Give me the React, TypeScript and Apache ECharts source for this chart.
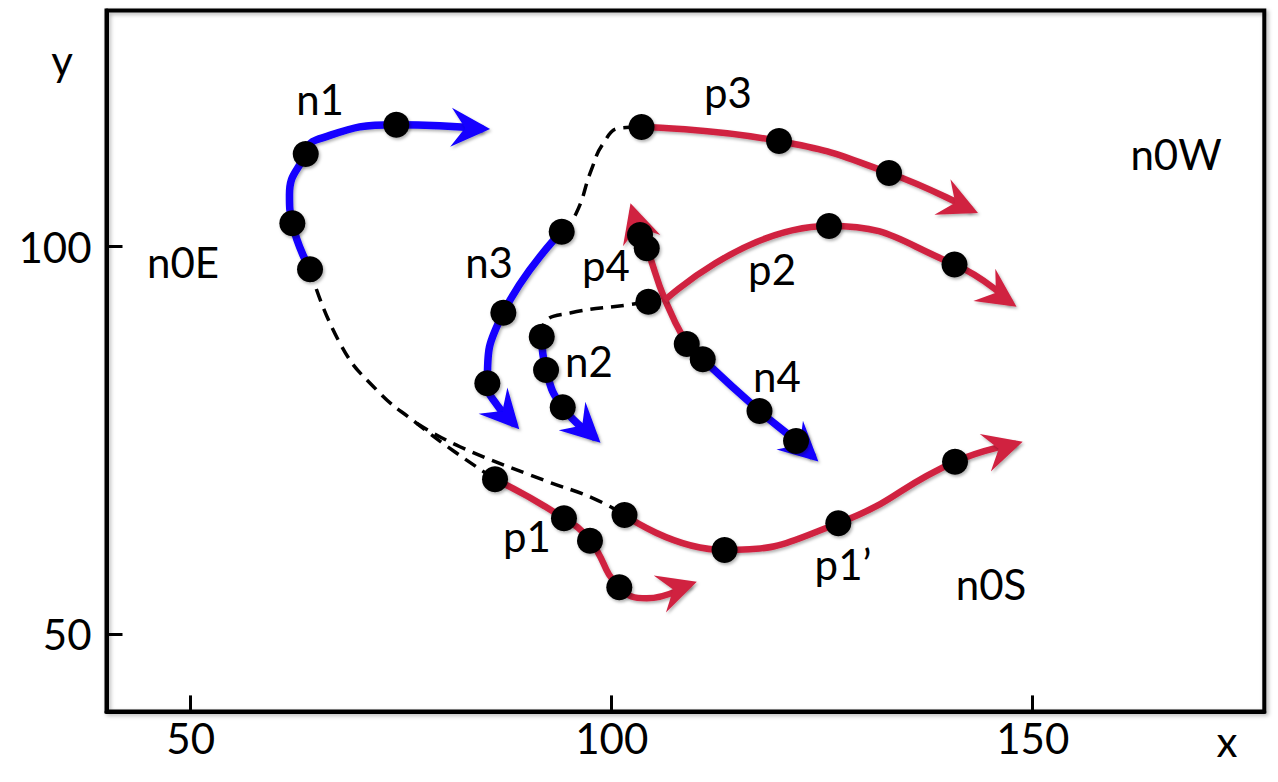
import React, { useEffect, useRef } from 'react';
import * as echarts from 'echarts';

const BLUE = '#1200ff';
const RED = '#d02241';

// Curves (x, y), each ending at its arrow tip
const n1Curve = [[64.17, 97.08], [62.07, 103.01], [61.73, 106.67], [63.66, 111.96], [64.88, 113.77], [74.42, 115.74], [84.72, 115.22]];
const n3Curve = [[94.06, 101.93], [87.13, 91.47], [85.23, 82.36], [86.38, 79.56], [88.46, 77.08]];
const n2Curve = [[91.69, 88.38], [92.2, 84.08], [94.18, 79.26], [98.06, 75.31]];
const n4Curve = [[110.81, 85.46], [117.55, 78.78], [121.89, 74.91], [123.93, 72.86]];
const p4Curve = [[108.91, 87.43], [106.33, 93.11], [104.16, 99.79], [103.36, 101.5], [102.47, 104.74]];
const p2Curve = [[106.33, 93.11], [125.81, 102.67], [140.71, 97.7], [147.39, 92.75]];
const p3Curve = [[103.54, 115.45], [119.87, 113.64], [132.93, 109.51], [142.74, 104.71]];
const p1Curve = [[86.14, 69.97], [94.33, 64.93], [97.42, 62.04], [100.9, 56.02], [104.16, 54.6], [109.32, 56.46]];
const p1pCurve = [[101.52, 65.36], [113.4, 60.84], [126.91, 64.29], [140.77, 72.24], [148.01, 74.57]];

// Dashed connectors
const dash1 = [[64.17, 97.08], [67.73, 87.52], [72.09, 81.49], [76.84, 77.2], [81.39, 73.49], [86.14, 69.97]];
const dash2 = [[76.84, 77.2], [81.98, 74.17], [91.88, 69.88], [97.81, 67.51], [101.52, 65.36]];
const dash3 = [[94.06, 101.93], [95.74, 104.22], [97.58, 109.9], [99.0, 113.34], [100.99, 115.32], [103.54, 115.45]];
const dash4 = [[91.69, 88.38], [92.08, 90.27], [95.05, 91.43], [101.78, 92.47], [104.35, 92.89]];

// Black dots
const dotsN1 = [[64.17, 97.08], [62.07, 103.01], [63.66, 111.96], [74.42, 115.74]];
const dotsN3 = [[94.06, 101.93], [87.13, 91.47], [85.23, 82.36]];
const dotsN2 = [[91.69, 88.38], [92.2, 84.08], [94.18, 79.26]];
const dotsN4 = [[110.81, 85.46], [117.55, 78.78], [121.89, 74.91]];
const dotsP4 = [[108.91, 87.43], [104.16, 99.79], [103.36, 101.5], [104.35, 92.89]];
const dotsP2 = [[125.81, 102.67], [140.71, 97.7]];
const dotsP3 = [[103.54, 115.45], [119.87, 113.64], [132.93, 109.51]];
const dotsP1 = [[86.14, 69.97], [94.33, 64.93], [97.42, 62.04], [100.9, 56.02]];
const dotsP1p = [[101.52, 65.36], [113.4, 60.84], [126.91, 64.29], [140.77, 72.24]];

// Text labels
const labelNames = ['n1', 'p3', 'n0W', 'n0E', 'n3', 'p4', 'p2', 'n2', 'n4', 'p1', 'p1\u2019', 'n0S'];
const labelX = [65.36, 113.81, 167.02, 49.09, 85.43, 99.32, 119.04, 97.3, 119.63, 89.94, 127.47, 145.05];
const labelY = [119.1, 119.95, 111.9, 97.96, 97.96, 97.57, 97.12, 85.22, 83.28, 62.59, 58.97, 56.39];

const xTicks = [50, 100, 150];
const yTicks = [50, 100];

const FONT = 'Lato';
const FS = 42;

export default function App() {
  const ref = useRef<HTMLDivElement>(null);
  useEffect(() => {
    if (!ref.current) return;
    const chart = echarts.init(ref.current, undefined, { renderer: 'svg' });

    const solid: [number[][], string, number][] = [
      [n1Curve, BLUE, 7.5], [n3Curve, BLUE, 7.5], [n2Curve, BLUE, 7.5], [n4Curve, BLUE, 7.5],
      [p4Curve, RED, 6.5], [p2Curve, RED, 6.5], [p3Curve, RED, 6.5], [p1Curve, RED, 6.5], [p1pCurve, RED, 6.5],
    ];
    const dashed = [dash1, dash2, dash3, dash4];
    const arrowColors = solid.map((s) => s[1]);
    const arrowData = solid.map(([c], i) => [
      c[c.length - 1][0], c[c.length - 1][1], c[c.length - 2][0], c[c.length - 2][1], i,
    ]);
    const allDots = [...dotsN1, ...dotsN3, ...dotsN2, ...dotsN4, ...dotsP4, ...dotsP2, ...dotsP3, ...dotsP1, ...dotsP1p];

    const shadow = { shadowColor: 'rgba(0,0,0,0.3)', shadowBlur: 3, shadowOffsetX: 1.5, shadowOffsetY: 2 };

    const series: any[] = [];
    dashed.forEach((d) => series.push({
      type: 'line', data: d, smooth: 0.5, symbol: 'none', silent: true, z: 1,
      lineStyle: { color: '#000', width: 3.5, type: [13, 8] },
    }));
    solid.forEach(([c, col, w]) => series.push({
      type: 'line', data: c, smooth: 0.5, symbol: 'none', silent: true, z: 2,
      lineStyle: { color: col, width: w, ...shadow },
    }));
    series.push({
      type: 'custom', coordinateSystem: 'cartesian2d', data: arrowData, z: 3, silent: true,
      encode: { x: [0, 2], y: [1, 3] },
      renderItem: (params: any, api: any) => {
        const tip = api.coord([api.value(0), api.value(1)]);
        const prev = api.coord([api.value(2), api.value(3)]);
        let dx = tip[0] - prev[0];
        let dy = tip[1] - prev[1];
        const len = Math.hypot(dx, dy) || 1;
        dx /= len; dy /= len;
        const nx = -dy; const ny = dx;
        const L = 39; const W = 19.5; const N = 25; const O = 7;
        const tx = tip[0] + dx * O; const ty = tip[1] + dy * O;
        const pts = [
          [tx, ty],
          [tx - dx * L + nx * W, ty - dy * L + ny * W],
          [tx - dx * N, ty - dy * N],
          [tx - dx * L - nx * W, ty - dy * L - ny * W],
        ];
        return { type: 'polygon', shape: { points: pts }, style: { fill: arrowColors[api.value(4)], ...shadow } };
      },
    });
    series.push({
      type: 'scatter', data: allDots, symbol: 'circle', symbolSize: 26, z: 4, silent: true,
      itemStyle: { color: '#000', opacity: 1, ...shadow },
    });
    series.push({
      type: 'scatter', z: 5, silent: true, symbolSize: 1,
      itemStyle: { color: 'rgba(0,0,0,0)', opacity: 1 },
      data: labelNames.map((n, i) => ({ name: n, value: [labelX[i], labelY[i]] })),
      label: {
        show: true, position: 'inside', formatter: '{b}', color: '#000', opacity: 1,
        fontFamily: FONT, fontSize: FS, align: 'center', verticalAlign: 'middle',
      },
    });

    chart.setOption({
      animation: false,
      textStyle: { fontFamily: FONT },
      grid: {
        left: 106.5, top: 10.4, width: 1157.8, height: 701,
        show: true, borderColor: '#000', borderWidth: 4, backgroundColor: 'rgba(0,0,0,0)',
        shadowColor: 'rgba(0,0,0,0.3)', shadowBlur: 4, shadowOffsetX: 2, shadowOffsetY: 2,
      },
      xAxis: {
        type: 'value', min: 40, max: 177.5,
        splitLine: { show: false },
        axisLine: { show: true, lineStyle: { color: '#000', width: 4 } },
        axisTick: { show: true, inside: true, length: 16, customValues: xTicks, lineStyle: { color: '#000', width: 3 } },
        axisLabel: { customValues: xTicks, fontSize: FS, color: '#000', fontFamily: FONT, margin: 6 },
      },
      yAxis: {
        type: 'value', min: 40, max: 130.5,
        splitLine: { show: false },
        axisLine: { show: true, lineStyle: { color: '#000', width: 4 } },
        axisTick: { show: true, inside: true, length: 16, customValues: yTicks, lineStyle: { color: '#000', width: 3 } },
        axisLabel: { customValues: yTicks, fontSize: FS, color: '#000', fontFamily: FONT, margin: 15 },
      },
      graphic: [
        { type: 'text', x: 1227, y: 741, style: { text: 'x', font: `${FS}px ${FONT}`, fill: '#000', textAlign: 'center', textVerticalAlign: 'middle' } },
        { type: 'text', x: 62, y: 60, style: { text: 'y', font: `${FS}px ${FONT}`, fill: '#000', textAlign: 'center', textVerticalAlign: 'middle' } },
      ],
      series,
    });
    return () => chart.dispose();
  }, []);
  return <div ref={ref} style={{ position: 'fixed', left: 0, top: 0, width: 1278, height: 782, background: '#fff' }} />;
}
